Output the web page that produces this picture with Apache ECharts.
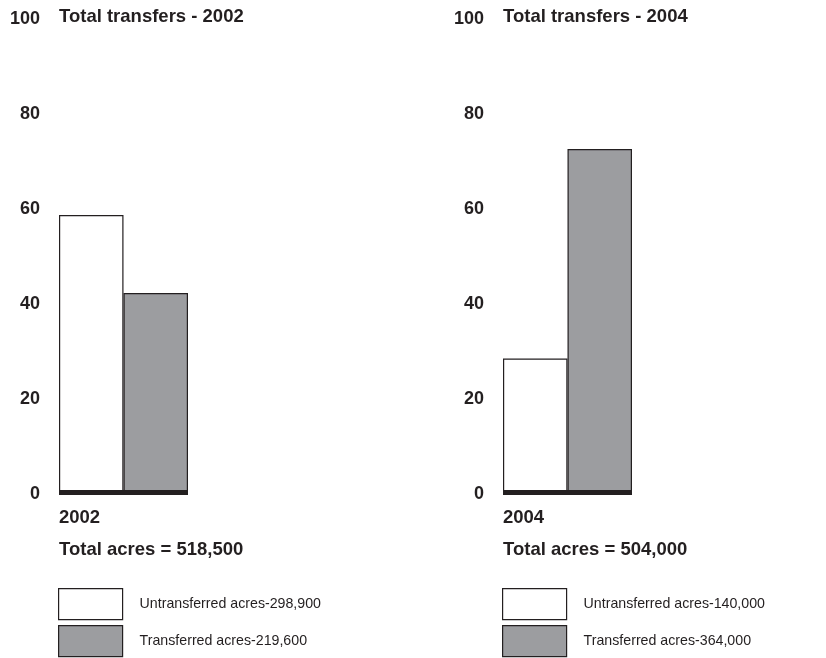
<!DOCTYPE html>
<html>
<head>
<meta charset="utf-8">
<script src="https://cdn.jsdelivr.net/npm/echarts@6/dist/echarts.min.js"></script>
<style>
html,body{margin:0;padding:0;background:#fff;}
#chart{width:826px;height:658px;}
</style>
</head>
<body>
<div id="chart"></div>
<script>
const years = ['2002', '2004'];
const untransferredPct = [58.3, 28.1];
const transferredPct = [41.9, 72.2];
const totalAcres = ['518,500', '504,000'];
const untransferredAcres = ['298,900', '140,000'];
const transferredAcres = ['219,600', '364,000'];
const yMin = 0, yMax = 100, yStep = 20;

const INK = '#231f20';
const GRAY = '#9c9da0';
const FONT = 'Liberation Sans, Arial, Helvetica, sans-serif';

const panelLeft = [59, 503];
const panelWidth = 129;

const chart = echarts.init(document.getElementById('chart'), null, {renderer: 'canvas'});

const grids = [], xAxes = [], yAxes = [], series = [], legends = [], graphics = [];
years.forEach((yr, i) => {
  grids.push({left: panelLeft[i], width: panelWidth, top: 17, bottom: 166, containLabel: false});
  xAxes.push({
    type: 'category', gridIndex: i, data: [yr],
    axisLine: {show: true, lineStyle: {color: INK, width: 5, cap: 'butt'}},
    axisTick: {show: false}, axisLabel: {show: false}, z: 10
  });
  yAxes.push({
    type: 'value', gridIndex: i, min: yMin, max: yMax, interval: yStep,
    axisLine: {show: false}, axisTick: {show: false}, splitLine: {show: false},
    axisLabel: {margin: 19, color: INK, fontWeight: 'bold', fontSize: 18, fontFamily: FONT,
                verticalAlign: 'top', lineHeight: 5}
  });
  const nameU = 'Untransferred acres-' + untransferredAcres[i];
  const nameT = 'Transferred acres-' + transferredAcres[i];
  series.push({
    type: 'bar', name: nameU, xAxisIndex: i, yAxisIndex: i,
    data: [untransferredPct[i]], barGap: '0%', barCategoryGap: '0%',
    itemStyle: {color: '#ffffff', borderColor: INK, borderWidth: 1.2},
    emphasis: {disabled: true}, animation: false
  });
  series.push({
    type: 'bar', name: nameT, xAxisIndex: i, yAxisIndex: i,
    data: [transferredPct[i]], barGap: '0%', barCategoryGap: '0%',
    itemStyle: {color: GRAY, borderColor: INK, borderWidth: 1.2},
    emphasis: {disabled: true}, animation: false
  });
  [nameU, nameT].forEach((nm, k) => {
    legends.push({
      data: [nm], left: panelLeft[i] - 1, top: 588 + k * 37, padding: 0,
      icon: 'rect', itemWidth: 64, itemHeight: 31,
      selectedMode: false,
      itemStyle: {borderColor: INK, borderWidth: 1.2},
      textStyle: {color: INK, fontSize: 14.2, fontFamily: FONT, padding: [0, 0, 0, 12]}
    });
  });
  graphics.push({
    type: 'text', x: panelLeft[i], y: 17,
    style: {text: 'Total transfers - ' + yr, fill: INK, font: 'bold 18.5px ' + FONT, verticalAlign: 'middle', align: 'left'}
  });
  graphics.push({
    type: 'text', x: panelLeft[i], y: 518,
    style: {text: yr, fill: INK, font: 'bold 18.5px ' + FONT, verticalAlign: 'middle', align: 'left'}
  });
  graphics.push({
    type: 'text', x: panelLeft[i], y: 550,
    style: {text: 'Total acres = ' + totalAcres[i], fill: INK, font: 'bold 18.5px ' + FONT, verticalAlign: 'middle', align: 'left'}
  });
});

chart.setOption({
  animation: false,
  backgroundColor: '#ffffff',
  grid: grids, xAxis: xAxes, yAxis: yAxes, series: series,
  legend: legends, graphic: graphics
});
</script>
</body>
</html>
